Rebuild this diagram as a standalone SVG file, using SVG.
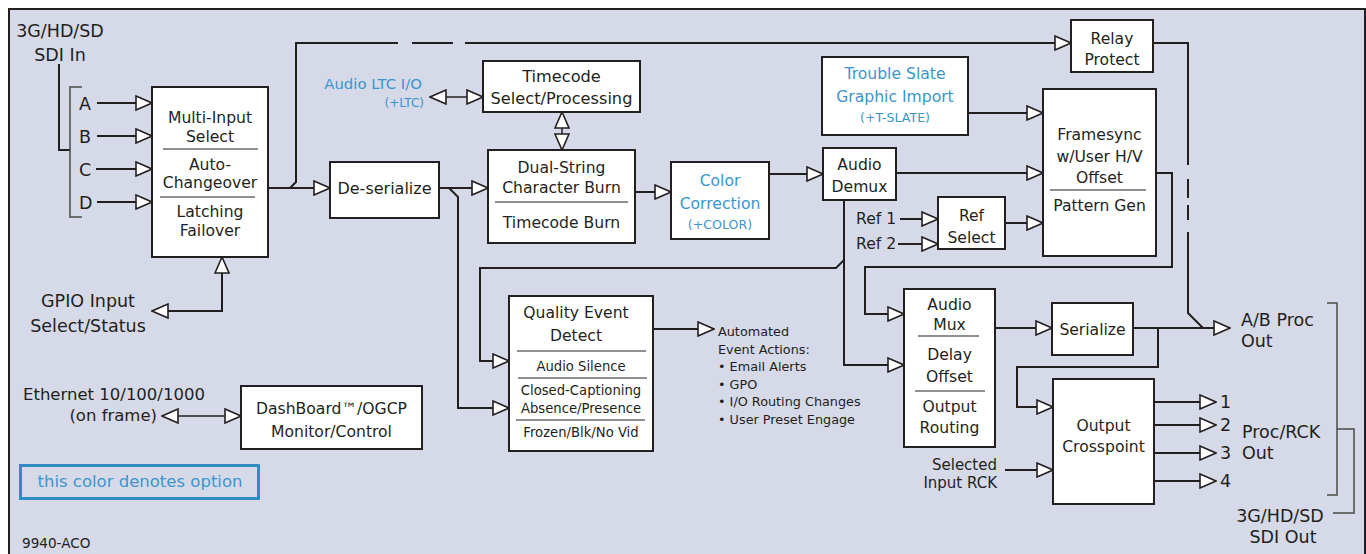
<svg xmlns="http://www.w3.org/2000/svg" width="1366" height="554" viewBox="0 0 1366 554">
<defs>
<style>
text{font-family:"DejaVu Sans","Liberation Sans",sans-serif;fill:#231f20;font-size:15.6px}
.c{text-anchor:middle}
.e{text-anchor:end}
.b{fill:#3a96cc}
.opt{font-size:12.6px}
.s13{font-size:13.2px}
.ev{font-size:12.8px}
.s15{font-size:15px}
.s18{font-size:17.5px}
.box{fill:#fff;stroke:#231f20;stroke-width:2}
.div{stroke:#231f20;stroke-width:1.2}
.w{fill:none;stroke:#231f20;stroke-width:2}
.t{fill:none;stroke:#231f20;stroke-width:1.5}
.g{fill:none;stroke:#4a4a4a;stroke-width:1.5}
.a{marker-end:url(#ar)}
.aa{marker-start:url(#ar);marker-end:url(#ar)}
</style>
<marker id="ar" viewBox="0 0 18 16" markerWidth="18" markerHeight="16" refX="17" refY="8" orient="auto-start-reverse" markerUnits="userSpaceOnUse">
<path d="M1,1 L17,8 L1,15 Z" fill="#fff" stroke="#231f20" stroke-width="1.6" stroke-linejoin="miter"/>
</marker>
</defs>
<rect x="0" y="0" width="1366" height="554" fill="#fff"/>
<rect x="9" y="9" width="1356" height="560" fill="#d6d9e8" stroke="#231f20" stroke-width="2"/>

<g id="connectors">
<path class="w" d="M59,64 V150 H70"/>
<path class="g" d="M82,87 H70 V217 H82"/>
<path class="w a" d="M97,103 H152"/>
<path class="w a" d="M97,136 H152"/>
<path class="w a" d="M96,169 H152"/>
<path class="w a" d="M97,202 H152"/>
<path class="w a" d="M268,188 H330"/>
<path class="w" d="M290,188 L296,182 V43 H398"/>
<path class="w" d="M412,43 H453"/>
<path class="w a" d="M465,43 H1071"/>
<path class="w" d="M1153,43 H1188 V165"/>
<path class="w" d="M1188,179 V198 M1188,205 V220"/>
<path class="w" d="M1188,232 V313 L1203,328"/>
<path class="w a" d="M1133,328 H1230"/>
<path class="w a" d="M1158,328 V367 H1017 V407 H1053"/>
<path class="w a" d="M995,328 H1052"/>
<path class="w a" d="M1154,402 H1216"/>
<path class="w a" d="M1154,425 H1216"/>
<path class="w a" d="M1154,453 H1216"/>
<path class="w a" d="M1154,481 H1216"/>
<path class="w a" d="M1005,470 H1053"/>
<path class="g" d="M1327,303 H1337 V495 H1327"/>
<path class="g" d="M1337,429 H1354 V513 H1333"/>
<path class="w a" d="M439,188 H488"/>
<path class="w a" d="M449,188 L458,197 V408 H509"/>
<path class="t aa" d="M430,97 H483"/>
<path class="t aa" d="M562,112 V150"/>
<path class="w a" d="M635,192 H671"/>
<path class="w a" d="M769,174 H823"/>
<path class="w a" d="M896,173 H1043"/>
<path class="w a" d="M968,113 H1043"/>
<path class="w a" d="M900,219 H938"/>
<path class="w a" d="M898,244 H938"/>
<path class="w a" d="M1005,223 H1043"/>
<path class="w a" d="M1156,173 H1172 V267 H865 V314 H904"/>
<path class="w a" d="M844,200 V365 H904"/>
<path class="w a" d="M844,260 L836,268 H480 V361 H509"/>
<path class="w a" d="M653,329 H714"/>
<path class="w aa" d="M152,311 H222 V257"/>
<path class="t aa" d="M162,416 H241"/>
</g>

<g id="sdi-in">
<text class="c s18" x="60" y="37">3G/HD/SD</text>
<text class="c s18" x="60" y="61">SDI In</text>
<text class="s18" x="79" y="110">A</text>
<text class="s18" x="79" y="143">B</text>
<text class="s18" x="79" y="176">C</text>
<text class="s18" x="79" y="209">D</text>
</g>

<g id="multi-input">
<rect class="box" x="152" y="87" width="116" height="170"/>
<g style="font-size:15.4px">
<text class="c" x="210" y="123">Multi-Input</text>
<text class="c" x="210" y="142">Select</text>
<text class="c" x="210" y="170">Auto-</text>
<text class="c" x="210" y="188">Changeover</text>
<text class="c" x="210" y="217">Latching</text>
<text class="c" x="210" y="236">Failover</text>
</g>
<line class="div" x1="163" y1="149" x2="258" y2="149"/>
<line class="div" x1="160" y1="197" x2="255" y2="197"/>
</g>

<g id="deserialize">
<rect class="box" x="330" y="162" width="109" height="56"/>
<text class="c" x="384.5" y="194" style="font-size:16px">De-serialize</text>
</g>

<g id="audio-ltc">
<text class="e b" x="422" y="89" style="font-size:14.9px">Audio LTC I/O</text>
<text class="e b" x="424" y="107" style="font-size:12px">(+LTC)</text>
</g>

<g id="timecode">
<rect class="box" x="483" y="61" width="157" height="51"/>
<text class="c" x="561.5" y="82" style="font-size:16.2px">Timecode</text>
<text class="c" x="561.5" y="104" style="font-size:16.2px">Select/Processing</text>
</g>

<g id="dual-string">
<rect class="box" x="488" y="150" width="147" height="93"/>
<text class="c" x="561.5" y="173">Dual-String</text>
<text class="c" x="561.5" y="193">Character Burn</text>
<line class="div" x1="495" y1="202" x2="628" y2="202"/>
<text class="c" x="561.5" y="228">Timecode Burn</text>
</g>

<g id="color-correction">
<rect class="box" x="671" y="162" width="98" height="77"/>
<text class="c b" x="720" y="186">Color</text>
<text class="c b" x="720" y="209">Correction</text>
<text class="c b opt" x="720" y="229">(+COLOR)</text>
</g>

<g id="audio-demux">
<rect class="box" x="823" y="148" width="73" height="52"/>
<text class="c" x="859.5" y="170">Audio</text>
<text class="c" x="859.5" y="192">Demux</text>
</g>

<g id="trouble-slate">
<rect class="box" x="822" y="57" width="146" height="78"/>
<text class="c b" x="895" y="79">Trouble Slate</text>
<text class="c b" x="895" y="102">Graphic Import</text>
<text class="c b opt" x="895" y="122">(+T-SLATE)</text>
</g>

<g id="relay-protect">
<rect class="box" x="1071" y="20" width="82" height="52"/>
<text class="c" x="1112" y="44">Relay</text>
<text class="c" x="1112" y="65">Protect</text>
</g>

<g id="framesync">
<rect class="box" x="1043" y="89" width="113" height="167"/>
<text class="c" x="1099.5" y="140">Framesync</text>
<text class="c" x="1099.5" y="162">w/User H/V</text>
<text class="c" x="1099.5" y="183">Offset</text>
<line class="div" x1="1050" y1="190" x2="1146" y2="190"/>
<text class="c" x="1099.5" y="211">Pattern Gen</text>
</g>

<g id="refs">
<text x="856" y="224">Ref 1</text>
<text x="856" y="249">Ref 2</text>
</g>

<g id="ref-select">
<rect class="box" x="938" y="197" width="67" height="52"/>
<text class="c" x="971.5" y="221">Ref</text>
<text class="c" x="971.5" y="243">Select</text>
</g>

<g id="audio-mux">
<rect class="box" x="904" y="289" width="91" height="158"/>
<text class="c" x="949.5" y="310">Audio</text>
<text class="c" x="949.5" y="330">Mux</text>
<line class="div" x1="918" y1="336" x2="979" y2="336"/>
<text class="c" x="949.5" y="360">Delay</text>
<text class="c" x="949.5" y="382">Offset</text>
<line class="div" x1="915" y1="391" x2="985" y2="391"/>
<text class="c" x="949.5" y="412">Output</text>
<text class="c" x="949.5" y="433">Routing</text>
</g>

<g id="serialize">
<rect class="box" x="1052" y="303" width="81" height="52"/>
<text class="c" x="1092.5" y="335">Serialize</text>
</g>

<g id="output-crosspoint">
<rect class="box" x="1053" y="379" width="101" height="125"/>
<text class="c" x="1103.5" y="431">Output</text>
<text class="c" x="1103.5" y="452">Crosspoint</text>
</g>

<g id="selected-input">
<text class="e s15" x="997" y="470">Selected</text>
<text class="e s15" x="997" y="488">Input RCK</text>
</g>

<g id="outputs">
<text class="s18" x="1220" y="408">1</text>
<text class="s18" x="1220" y="431">2</text>
<text class="s18" x="1220" y="459">3</text>
<text class="s18" x="1220" y="487">4</text>
<text class="s18" x="1241" y="326">A/B Proc</text>
<text class="s18" x="1241" y="347">Out</text>
<text class="s18" x="1242" y="438">Proc/RCK</text>
<text class="s18" x="1242" y="459">Out</text>
<text class="c s18" x="1280" y="522">3G/HD/SD</text>
<text class="c s18" x="1283" y="543">SDI Out</text>
</g>

<g id="quality-event">
<rect class="box" x="509" y="296" width="144" height="155"/>
<text class="c" x="576" y="318">Quality Event</text>
<text class="c" x="576" y="341">Detect</text>
<line class="div" x1="517" y1="351" x2="646" y2="351"/>
<text class="c s13" x="581" y="371">Audio Silence</text>
<line class="div" x1="518" y1="378" x2="647" y2="378"/>
<text class="c s13" x="581" y="395">Closed-Captioning</text>
<text class="c s13" x="581" y="413">Absence/Presence</text>
<line class="div" x1="516" y1="420" x2="645" y2="420"/>
<text class="c s13" x="581" y="437">Frozen/Blk/No Vid</text>
</g>

<g id="event-actions">
<text class="ev" x="718" y="336">Automated</text>
<text class="ev" x="718" y="353.5">Event Actions:</text>
<text class="ev" x="718" y="371">• Email Alerts</text>
<text class="ev" x="718" y="388.5">• GPO</text>
<text class="ev" x="718" y="406">• I/O Routing Changes</text>
<text class="ev" x="718" y="423.5">• User Preset Engage</text>
</g>

<g id="gpio">
<text class="c s18" x="88" y="307">GPIO Input</text>
<text class="c s18" x="88" y="332">Select/Status</text>
</g>

<g id="ethernet">
<text x="23" y="400" style="font-size:16.5px">Ethernet 10/100/1000</text>
<text class="e" x="157" y="421" style="font-size:16.5px">(on frame)</text>
</g>

<g id="dashboard">
<rect class="box" x="241" y="386" width="181" height="63"/>
<text class="c" x="331.5" y="414">DashBoard™/OGCP</text>
<text class="c" x="331.5" y="437">Monitor/Control</text>
</g>

<g id="legend">
<rect x="20.5" y="465.5" width="238" height="33" fill="none" stroke="#2f8dc4" stroke-width="3"/>
<text class="c b" x="140" y="487" style="font-size:16.5px">this color denotes option</text>
</g>

<g id="figure-id">
<text x="22" y="548" style="font-size:13.6px">9940-ACO</text>
</g>
</svg>
